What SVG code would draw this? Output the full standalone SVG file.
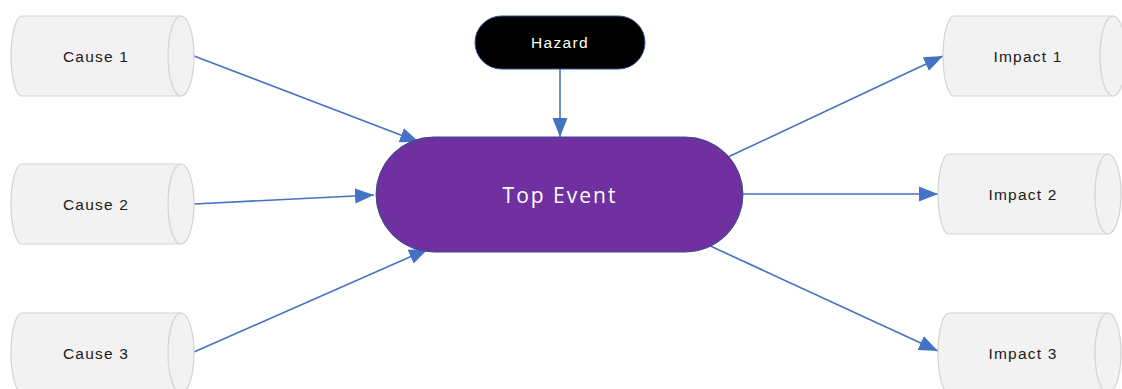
<svg xmlns="http://www.w3.org/2000/svg" xmlns:xlink="http://www.w3.org/1999/xlink" width="1122" height="389" viewBox="0 0 1122 389">
<style>
.cyl{fill:#F2F2F2;stroke:#D3D3D3;stroke-width:1.2}
.lbl{font-family:"Liberation Sans",Arial,sans-serif;font-size:15.5px;fill:#1a1a1a;text-anchor:middle;letter-spacing:1.2px}
.edge{stroke:#4472C4;stroke-width:1.6;fill:none;marker-end:url(#ah)}
</style>
<defs>
<marker id="ah" markerUnits="userSpaceOnUse" markerWidth="20" markerHeight="16" viewBox="0 0 20 16" refX="19" refY="8" orient="auto">
<path d="M0 0.5 L19 8 L0 15.5 Z" fill="#4472C4"/>
</marker>
<g id="cyl">
<path class="cyl" d="M11 0 L170 0 A13 40 0 0 1 170 80 L11 80 A11 40 0 0 1 11 0 Z"/>
<path class="cyl" d="M170 0 A13 40 0 0 0 170 80" fill="none"/>
</g>
</defs>
<g id="connectors">
<line class="edge" x1="560" y1="69" x2="560" y2="137"/>
<line class="edge" x1="194" y1="56" x2="419" y2="142"/>
<line class="edge" x1="194" y1="204" x2="374" y2="195"/>
<line class="edge" x1="194" y1="352" x2="428" y2="249"/>
<line class="edge" x1="728" y1="157" x2="943" y2="56"/>
<line class="edge" x1="743" y1="194" x2="938" y2="194"/>
<line class="edge" x1="706" y1="244" x2="938" y2="351"/>
</g>
<g id="cause1" transform="translate(11,16)"><use xlink:href="#cyl"/><text class="lbl" x="85" y="46">Cause 1</text></g>
<g id="cause2" transform="translate(11,164)"><use xlink:href="#cyl"/><text class="lbl" x="85" y="46">Cause 2</text></g>
<g id="cause3" transform="translate(11,313)"><use xlink:href="#cyl"/><text class="lbl" x="85" y="46">Cause 3</text></g>
<g id="impact1" transform="translate(943,16)"><use xlink:href="#cyl"/><text class="lbl" x="85" y="46">Impact 1</text></g>
<g id="impact2" transform="translate(938,154)"><use xlink:href="#cyl"/><text class="lbl" x="85" y="46">Impact 2</text></g>
<g id="impact3" transform="translate(938,313)"><use xlink:href="#cyl"/><text class="lbl" x="85" y="46">Impact 3</text></g>
<g id="hazard">
<rect x="475" y="16" width="170" height="53" rx="26.5" fill="#000" stroke="#2F528F" stroke-width="1"/>
<text x="560" y="48" font-family="'Liberation Sans',Arial,sans-serif" font-size="15.5" fill="#fff" text-anchor="middle" letter-spacing="1.3">Hazard</text>
</g>
<g id="topevent">
<rect x="376" y="137" width="367" height="115" rx="57.5" fill="#7030A0" stroke="#2F528F" stroke-width="1"/>
<text x="560" y="203" font-family="'Open Sans','Noto Sans',sans-serif" font-size="21" fill="#fff" text-anchor="middle" letter-spacing="2">Top Event</text>
</g>
</svg>
